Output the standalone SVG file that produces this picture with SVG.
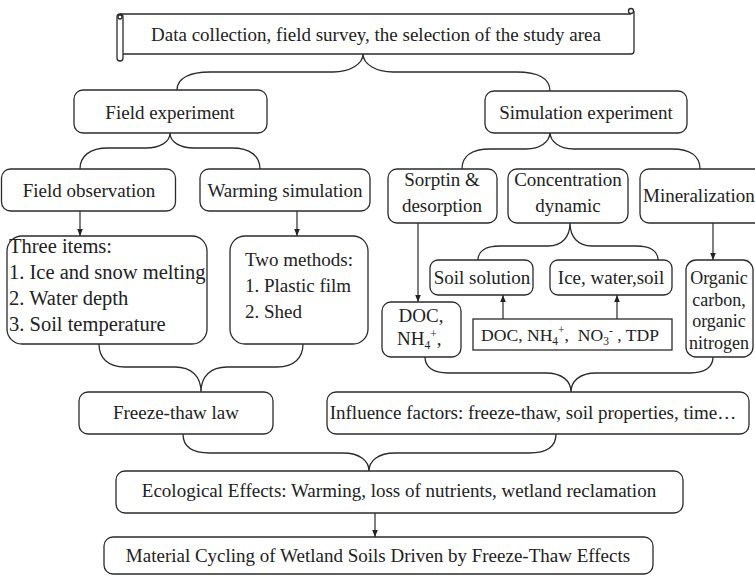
<svg xmlns="http://www.w3.org/2000/svg" width="755" height="577" viewBox="0 0 755 577">
<defs>
<marker id="ah" viewBox="0 0 10 10" refX="10" refY="5" markerWidth="7" markerHeight="7" orient="auto" markerUnits="userSpaceOnUse"><path d="M0,1 L10,5 L0,9 Z" fill="#222"/></marker>
<style>
.box{fill:#fff;stroke:#2b2b2b;stroke-width:1.3}
.t{font-family:"Liberation Serif","Times New Roman",serif;font-size:19px;fill:#222}
.c{text-anchor:middle}
.ln{fill:none;stroke:#2b2b2b;stroke-width:1.3}
.ar{fill:none;stroke:#2b2b2b;stroke-width:1.2;marker-end:url(#ah)}
.s{font-size:11.5px}
</style>
</defs>
<rect width="755" height="577" fill="#fff"/>

<g id="connectors">
<path class="ln" d="M177,90 C177,78 190,72 210,72 L333,72 C350,72 363,64 363,54 C363,64 376,72 393,72 L517,72 C537,72 550,78 550,91"/>
<path class="ln" d="M80,169 C80,156 90,148 108,148 L146,148 C160,148 170,142 170,133 C170,142 180,148 194,148 L232,148 C250,148 260,156 260,169"/>
<path class="ln" d="M462,169 C462,156 472,149 490,149 L526,149 C540,149 550,142 550,132 C550,142 560,149 574,149 L672,149 C690,149 700,156 700,169"/>
<path class="ln" d="M478,260 C478,251 486,246 500,246 L548,246 C562,246 570,237 570,223 C570,237 578,246 592,246 L636,246 C650,246 658,251 658,260"/>
<path class="ln" d="M99,344 C99,358 108,367 125,367 L175,367 C191,367 201,376 201,392 C201,376 211,367 227,367 L277,367 C294,367 303,358 303,344"/>
<path class="ln" d="M425,357 C425,367 433,373 448,373 L546,373 C562,373 571,381 571,392 C571,381 580,373 596,373 L690,373 C705,373 713,367 713,357"/>
<path class="ln" d="M183,434 C183,446 192,453 210,453 L343,453 C360,453 369,461 369,471 C369,461 378,453 395,453 L529,453 C547,453 556,446 556,434"/>
<line class="ar" x1="80" y1="211" x2="80" y2="236"/>
<line class="ar" x1="297" y1="211" x2="297" y2="236"/>
<line class="ar" x1="418" y1="223" x2="418" y2="302"/>
<line class="ar" x1="713" y1="223" x2="713" y2="260"/>
<line class="ar" x1="503" y1="319" x2="503" y2="295"/>
<line class="ar" x1="617" y1="319" x2="617" y2="295"/>
<line class="ar" x1="375" y1="513" x2="375" y2="537"/>
</g>

<g id="banner">
<rect x="120" y="14" width="514" height="40" fill="#fff"/>
<path class="ln" d="M120,14 H631"/>
<path class="ln" d="M634,11 V51 Q634,54 631,54 H123"/>
<circle class="ln" cx="631" cy="11" r="2.5"/>
<rect class="box" x="117" y="14" width="6" height="47" rx="3"/>
<circle class="ln" cx="120" cy="17" r="2"/>
<text class="t c" x="376" y="41">Data collection, field survey, the selection of the study area</text>
</g>

<g id="n-field-exp"><rect class="box" x="74" y="90" width="193" height="43" rx="9"/><text class="t c" x="170" y="119">Field experiment</text></g>
<g id="n-sim-exp"><rect class="box" x="485" y="91" width="202" height="42" rx="9"/><text class="t c" x="586" y="119">Simulation experiment</text></g>
<g id="n-field-obs"><rect class="box" x="1.5" y="169" width="174" height="42" rx="9"/><text class="t c" x="89" y="197">Field observation</text></g>
<g id="n-warming"><rect class="box" x="200" y="169" width="170" height="42" rx="9"/><text class="t c" x="285" y="197">Warming simulation</text></g>
<g id="n-three"><rect class="box" x="7" y="236" width="200" height="108" rx="15"/>
<text class="t" x="9" y="253" style="font-size:20.5px">Three items:</text>
<text class="t" x="9" y="279" style="font-size:20.5px">1. Ice and snow melting</text>
<text class="t" x="9" y="305" style="font-size:20.5px">2. Water depth</text>
<text class="t" x="9" y="331" style="font-size:20.5px">3. Soil temperature</text></g>
<g id="n-two"><rect class="box" x="230" y="236" width="138" height="108" rx="15"/>
<text class="t" x="245" y="266">Two methods:</text>
<text class="t" x="245" y="292">1. Plastic film</text>
<text class="t" x="245" y="318">2. Shed</text></g>
<g id="n-sorp"><rect class="box" x="388" y="169" width="109" height="54" rx="9"/><text class="t c" x="442" y="186">Sorptin &amp;</text><text class="t c" x="442" y="212">desorption</text></g>
<g id="n-conc"><rect class="box" x="508" y="169" width="120" height="54" rx="9"/><text class="t c" x="568" y="186">Concentration</text><text class="t c" x="568" y="212">dynamic</text></g>
<g id="n-min"><rect class="box" x="640" y="169" width="125" height="54" rx="9"/><text class="t" x="643" y="202">Mineralization</text></g>
<g id="n-doc1"><rect class="box" x="382" y="302" width="79" height="55" rx="9"/><text class="t c" x="421" y="322">DOC,</text><text class="t" x="397" y="345">NH<tspan class="s" dy="4">4</tspan><tspan class="s" dy="-11">+</tspan><tspan dy="7">,</tspan></text></g>
<g id="n-soil"><rect class="box" x="430" y="260" width="103" height="35" rx="8"/><text class="t c" x="482" y="284">Soil solution</text></g>
<g id="n-ice"><rect class="box" x="550" y="260" width="122" height="35" rx="8"/><text class="t c" x="611" y="284">Ice, water,soil</text></g>
<g id="n-doc2"><rect class="box" x="473" y="319" width="199" height="31"/><text class="t" x="481" y="341" style="font-size:17.6px">DOC, NH<tspan class="s" dy="4">4</tspan><tspan class="s" dy="-11">+</tspan><tspan dy="7" xml:space="preserve">,  NO</tspan><tspan class="s" dy="4">3</tspan><tspan class="s" dy="-11">-</tspan><tspan dy="7" xml:space="preserve"> , TDP</tspan></text></g>
<g id="n-org"><rect class="box" x="686" y="260" width="67" height="97" rx="10"/>
<text class="t c" x="719" y="284" style="font-size:18px">Organic</text>
<text class="t c" x="719" y="306" style="font-size:18px">carbon,</text>
<text class="t c" x="719" y="327" style="font-size:18px">organic</text>
<text class="t c" x="719" y="349" style="font-size:18px">nitrogen</text></g>
<g id="n-freeze"><rect class="box" x="79" y="392" width="194" height="42" rx="9"/><text class="t c" x="176" y="419">Freeze-thaw law</text></g>
<g id="n-infl"><rect class="box" x="327" y="392" width="422" height="42" rx="9"/><text class="t c" x="533" y="419">Influence factors: freeze-thaw, soil properties, time…</text></g>
<g id="n-eco"><rect class="box" x="116" y="471" width="567" height="42" rx="9"/><text class="t c" x="399" y="497">Ecological Effects: Warming, loss of nutrients, wetland reclamation</text></g>
<g id="n-mat"><rect class="box" x="104" y="537" width="549" height="37" rx="9"/><text class="t c" x="378" y="562">Material Cycling of Wetland Soils Driven by Freeze-Thaw Effects</text></g>
</svg>
